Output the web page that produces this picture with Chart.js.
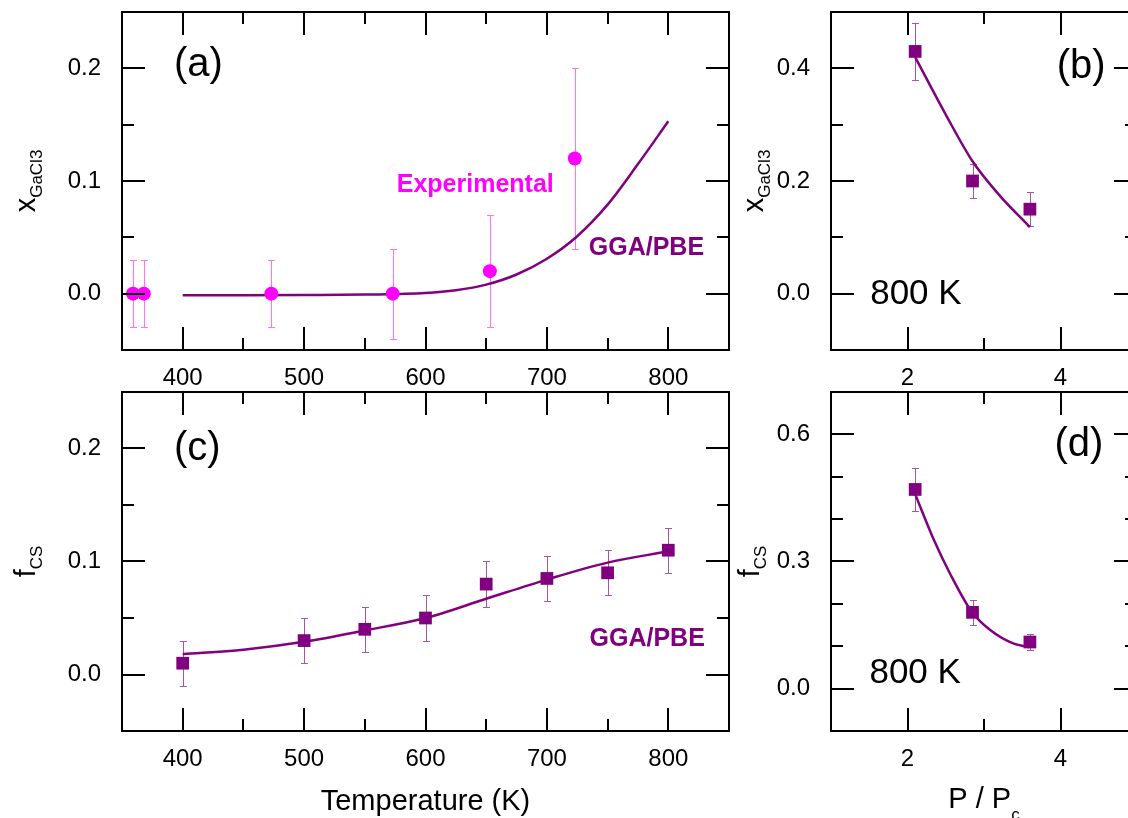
<!DOCTYPE html>
<html>
<head>
<meta charset="utf-8">
<script src="https://cdn.jsdelivr.net/npm/chart.js@4.4.1/dist/chart.umd.min.js"></script>
<style>
	html, body { margin: 0; padding: 0; background: #fff; overflow: hidden; width: 1128px; height: 818px; }
	.panel { position: absolute; }
</style>
</head>
<body>
<div class="panel" style="left:0;top:0"><canvas id="pa" width="745" height="385"></canvas></div>
<div class="panel" style="left:720px;top:0"><canvas id="pb" width="440" height="385"></canvas></div>
<div class="panel" style="left:0;top:380px"><canvas id="pc" width="745" height="438"></canvas></div>
<div class="panel" style="left:720px;top:380px"><canvas id="pd" width="440" height="438"></canvas></div>
<script>

const FONT = "'Liberation Sans', Arial, sans-serif";
const MAGENTA = '#ff00ff';
const PURPLE = '#800080';

// axis ticks
const tempTicks = [ 400, 500, 600, 700, 800 ];
const tempMinor = [ 450, 550, 650, 750 ];
const fracTicks = [ 0, 0.1, 0.2 ];
const fracMinor = [ 0.05, 0.15 ];
const ratioTicks = [ 2, 4 ];
const ratioMinor = [ 3 ];
const xGaTicks = [ 0, 0.2, 0.4 ];
const xGaMinor = [ 0.1, 0.3 ];
const fcsTicks = [ 0, 0.3, 0.6 ];
const fcsMinor = [ 0.1, 0.2, 0.4, 0.5 ];

// (a) GaCl3 fraction vs temperature
const expTemp = [ 359, 368, 473, 573, 653, 723 ];
const expX = [ 0, 0, 0, 0, 0.02, 0.12 ];
const expXErr = [ 0.03, 0.03, 0.03, 0.04, 0.05, 0.08 ];
const pbeTemp = [ 400, 450, 500, 550, 600, 625, 650, 675, 700, 725, 750, 775, 800 ];
const pbeX = [ -0.0015, -0.0014, -0.0012, -0.0008, 0.0005, 0.003, 0.008, 0.017, 0.031, 0.051, 0.079, 0.115, 0.153 ];

// (b) GaCl3 fraction vs P / Pc at 800 K
const ratioPts = [ 2.1, 2.85, 3.6 ];
const xRatio = [ 0.43, 0.20, 0.15 ];
const xRatioErr = [ 0.05, 0.03, 0.03 ];
const fitRatioB = [ 2.1, 2.5, 2.85, 3.2, 3.6 ];
const fitXB = [ 0.42, 0.318, 0.235, 0.175, 0.118 ];

// (c) f_CS vs temperature
const csTemp = [ 400, 500, 550, 600, 650, 700, 750, 800 ];
const csF = [ 0.01, 0.03, 0.04, 0.05, 0.08, 0.085, 0.09, 0.11 ];
const csFErr = [ 0.02, 0.02, 0.02, 0.02, 0.02, 0.02, 0.02, 0.02 ];
const pbeCsTemp = [ 400, 450, 500, 550, 600, 650, 700, 750, 800 ];
const pbeCsF = [ 0.018, 0.022, 0.029, 0.039, 0.05, 0.067, 0.084, 0.099, 0.109 ];

// (d) f_CS vs P / Pc at 800 K
const fRatio = [ 0.47, 0.18, 0.11 ];
const fRatioErr = [ 0.05, 0.03, 0.02 ];
const fitRatioD = [ 2.1, 2.35, 2.56, 2.83, 3.09, 3.39, 3.6 ];
const fitFD = [ 0.459, 0.349, 0.27, 0.184, 0.137, 0.106, 0.098 ];

function points ( xs, ys ) {

	return xs.map( ( x, i ) => ( { x, y: ys[ i ] } ) );

}

function curve ( xs, ys ) {

	return {
		data: points( xs, ys ),
		showLine: true,
		borderColor: PURPLE,
		borderWidth: 2.5,
		pointRadius: 0,
		cubicInterpolationMode: 'monotone',
		order: 1
	};

}

function markers ( xs, ys, style, radius, colour ) {

	return {
		data: points( xs, ys ),
		showLine: false,
		pointStyle: style,
		pointRadius: radius,
		backgroundColor: colour,
		borderColor: colour,
		borderWidth: 0,
		order: 0
	};

}

function drawSubText ( ctx, t, px, py, vertical ) {

	ctx.save();
	ctx.translate( px, py );
	if ( vertical ) ctx.rotate( - Math.PI / 2 );
	ctx.fillStyle = '#000';
	ctx.textAlign = 'left';
	ctx.textBaseline = 'alphabetic';

	ctx.font = '29px ' + FONT;
	const w1 = ctx.measureText( t.main ).width;
	ctx.font = '17px ' + FONT;
	const w2 = t.sub ? ctx.measureText( t.sub ).width : 0;
	const x0 = - ( w1 + w2 ) / 2;

	ctx.font = '29px ' + FONT;
	ctx.fillText( t.main, x0, 0 );
	if ( t.sub ) {

		ctx.font = '17px ' + FONT;
		ctx.fillText( t.sub, x0 + w1, t.drop ?? 7 );

	}
	ctx.restore();

}

// error bars, frame with inward ticks, titles and notes
function decor ( spec ) {

	return {
		id: 'decor',

		beforeDatasetsDraw ( chart ) {

			const { ctx, scales: { x, y } } = chart;

			ctx.save();
			ctx.lineWidth = 1;

			spec.errorBars.forEach( bar => {

				ctx.strokeStyle = bar.colour;
				ctx.beginPath();

				bar.xs.forEach( ( xv, i ) => {

					const px = Math.round( x.getPixelForValue( xv ) ) + 0.5;
					const top = Math.round( y.getPixelForValue( bar.ys[ i ] + bar.err[ i ] ) ) + 0.5;
					const bot = Math.round( y.getPixelForValue( bar.ys[ i ] - bar.err[ i ] ) ) + 0.5;

					ctx.moveTo( px, top ); ctx.lineTo( px, bot );
					ctx.moveTo( px - 3.5, top ); ctx.lineTo( px + 3.5, top );
					ctx.moveTo( px - 3.5, bot ); ctx.lineTo( px + 3.5, bot );

				} );

				ctx.stroke();

			} );

			ctx.restore();

		},

		afterDatasetsDraw ( chart ) {

			const { ctx, chartArea: a, scales: { x, y } } = chart;

			ctx.save();
			ctx.strokeStyle = '#000';
			ctx.lineWidth = 2;
			ctx.strokeRect( a.left, a.top, a.right - a.left, a.bottom - a.top );

			ctx.beginPath();

			const xMarks = ( vals, len ) => vals.forEach( v => {

				const p = Math.round( x.getPixelForValue( v ) );
				ctx.moveTo( p, a.bottom ); ctx.lineTo( p, a.bottom - len );
				ctx.moveTo( p, a.top ); ctx.lineTo( p, a.top + len );

			} );

			const yMarks = ( vals, len ) => vals.forEach( v => {

				const p = Math.round( y.getPixelForValue( v ) );
				ctx.moveTo( a.left, p ); ctx.lineTo( a.left + len, p );
				ctx.moveTo( a.right, p ); ctx.lineTo( a.right - len, p );

			} );

			xMarks( spec.x.ticks, 23 );
			xMarks( spec.x.minor, 12 );
			yMarks( spec.y.ticks, 23 );
			yMarks( spec.y.minor, 12 );

			ctx.stroke();
			ctx.restore();

		},

		afterDraw ( chart ) {

			const { ctx, chartArea: a, scales: { x, y } } = chart;

			if ( spec.yTitle ) drawSubText( ctx, spec.yTitle, a.left - spec.yTitle.gap, ( a.top + a.bottom ) / 2, true );
			if ( spec.xTitle ) drawSubText( ctx, spec.xTitle, ( a.left + a.right ) / 2, a.bottom + spec.xTitle.gap, false );

			ctx.save();
			ctx.textAlign = 'center';
			ctx.textBaseline = 'middle';

			spec.notes.forEach( n => {

				ctx.font = n.font + ' ' + FONT;
				ctx.fillStyle = n.colour || '#000';
				ctx.fillText( n.text, x.getPixelForValue( n.x ), y.getPixelForValue( n.y ) );

			} );

			ctx.restore();

		}
	};

}

function axis ( a, horizontal ) {

	return {
		type: 'linear',
		min: a.min,
		max: a.max,
		grid: { display: false },
		border: { display: false },
		afterBuildTicks: s => { s.ticks = a.ticks.map( value => ( { value } ) ); },
		afterFit: s => {

			if ( horizontal ) s.height = a.size; else s.width = a.size;
			// labels sit well inside the plot, no room needed at the ends
			s.paddingTop = s.paddingBottom = s.paddingLeft = s.paddingRight = 0;

		},
		ticks: {
			autoSkip: false,
			maxRotation: 0,
			padding: horizontal ? 6 : 13,
			color: '#000',
			font: { family: FONT, size: 24 },
			callback: v => v.toFixed( a.digits )
		}
	};

}

function panel ( id, spec ) {

	return new Chart( document.getElementById( id ), {
		type: 'scatter',
		data: { datasets: spec.datasets },
		options: {
			responsive: false,
			animation: false,
			devicePixelRatio: 1,
			events: [],
			layout: { padding: spec.padding },
			plugins: {
				legend: { display: false },
				tooltip: { enabled: false }
			},
			scales: {
				x: axis( spec.x, true ),
				y: axis( spec.y, false )
			}
		},
		plugins: [ decor( spec ) ]
	} );

}

Chart.defaults.font.family = FONT;

panel( 'pa', {
	padding: { left: 0, top: 12, right: 16, bottom: 0 },
	x: { min: 350, max: 850, ticks: tempTicks, minor: tempMinor, digits: 0, size: 35 },
	y: { min: -0.05, max: 0.25, ticks: fracTicks, minor: fracMinor, digits: 1, size: 122 },
	datasets: [
		markers( expTemp, expX, 'circle', 7, MAGENTA ),
		curve( pbeTemp, pbeX )
	],
	errorBars: [ { xs: expTemp, ys: expX, err: expXErr, colour: '#ff70ff' } ],
	yTitle: { main: 'x', sub: 'GaCl3', gap: 87 },
	notes: [
		{ text: '(a)', x: 413, y: 0.203, font: '40px' },
		{ text: 'Experimental', x: 641, y: 0.096, font: 'bold 25px', colour: MAGENTA },
		{ text: 'GGA/PBE', x: 782, y: 0.040, font: 'bold 25px', colour: PURPLE }
	]
} );

panel( 'pb', {
	padding: { left: 0, top: 12, right: 23, bottom: 0 },
	x: { min: 1, max: 5, ticks: ratioTicks, minor: ratioMinor, digits: 0, size: 35 },
	y: { min: -0.1, max: 0.5, ticks: xGaTicks, minor: xGaMinor, digits: 1, size: 111 },
	datasets: [
		markers( ratioPts, xRatio, 'rect', 9, PURPLE ),
		curve( fitRatioB, fitXB )
	],
	errorBars: [ { xs: ratioPts, ys: xRatio, err: xRatioErr, colour: '#a655a6' } ],
	yTitle: { main: 'x', sub: 'GaCl3', gap: 68 },
	notes: [
		{ text: '(b)', x: 4.27, y: 0.403, font: '40px' },
		{ text: '800 K', x: 2.11, y: -0.002, font: '35px' }
	]
} );

panel( 'pc', {
	padding: { left: 0, top: 12, right: 16, bottom: 0 },
	x: { min: 350, max: 850, ticks: tempTicks, minor: tempMinor, digits: 0, size: 87 },
	y: { min: -0.05, max: 0.25, ticks: fracTicks, minor: fracMinor, digits: 1, size: 122 },
	datasets: [
		markers( csTemp, csF, 'rect', 9, PURPLE ),
		curve( pbeCsTemp, pbeCsF )
	],
	errorBars: [ { xs: csTemp, ys: csF, err: csFErr, colour: '#a655a6' } ],
	yTitle: { main: 'f', sub: 'CS', gap: 87 },
	xTitle: { main: 'Temperature (K)', gap: 79 },
	notes: [
		{ text: '(c)', x: 412, y: 0.2, font: '40px' },
		{ text: 'GGA/PBE', x: 782.6, y: 0.0316, font: 'bold 25px', colour: PURPLE }
	]
} );

panel( 'pd', {
	padding: { left: 0, top: 12, right: 23, bottom: 0 },
	x: { min: 1, max: 5, ticks: ratioTicks, minor: ratioMinor, digits: 0, size: 87 },
	y: { min: -0.1, max: 0.7, ticks: fcsTicks, minor: fcsMinor, digits: 1, size: 111 },
	datasets: [
		markers( ratioPts, fRatio, 'rect', 9, PURPLE ),
		curve( fitRatioD, fitFD )
	],
	errorBars: [ { xs: ratioPts, ys: fRatio, err: fRatioErr, colour: '#a655a6' } ],
	yTitle: { main: 'f', sub: 'CS', gap: 72 },
	xTitle: { main: 'P / P', sub: 'c', gap: 77, drop: 12 },
	notes: [
		{ text: '(d)', x: 4.24, y: 0.576, font: '40px' },
		{ text: '800 K', x: 2.1, y: 0.035, font: '35px' }
	]
} );

</script>
</body>
</html>
